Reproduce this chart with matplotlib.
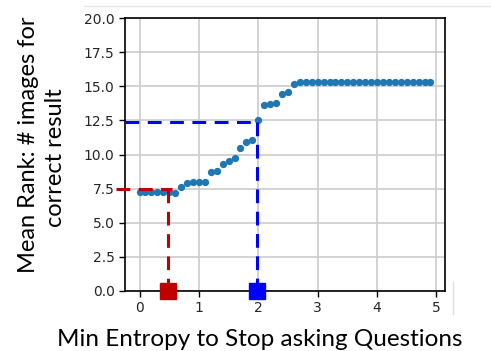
import numpy as np
import matplotlib
matplotlib.use("Agg")
import matplotlib.pyplot as plt
from matplotlib.lines import Line2D

entropy = [0.0, 0.1, 0.2, 0.3, 0.4, 0.5, 0.6, 0.7, 0.8, 0.9,
           1.0, 1.1, 1.2, 1.3, 1.4, 1.5, 1.6, 1.7, 1.8, 1.9,
           2.0, 2.1, 2.2, 2.3, 2.4, 2.5, 2.6, 2.7, 2.8, 2.9,
           3.0, 3.1, 3.2, 3.3, 3.4, 3.5, 3.6, 3.7, 3.8, 3.9,
           4.0, 4.1, 4.2, 4.3, 4.4, 4.5, 4.6, 4.7, 4.8, 4.9]
mean_rank = [7.24, 7.24, 7.24, 7.24, 7.24, 7.24, 7.17, 7.65, 7.90, 7.98,
             7.98, 7.98, 8.71, 8.80, 9.34, 9.54, 9.71, 10.51, 10.93, 11.08,
             12.55, 13.60, 13.72, 13.79, 14.43, 14.60, 15.19, 15.33, 15.33, 15.33,
             15.33, 15.33, 15.33, 15.33, 15.33, 15.33, 15.33, 15.33, 15.33, 15.33,
             15.33, 15.33, 15.33, 15.33, 15.33, 15.33, 15.33, 15.33, 15.33, 15.33]

red_x, red_y = 0.48, 7.45
blue_x, blue_y = 1.97, 12.4
yticks = [0.0, 2.5, 5.0, 7.5, 10.0, 12.5, 15.0, 17.5, 20.0]
xticks = [0, 1, 2, 3, 4, 5]

W, H = 491, 351
fig = plt.figure(figsize=(W / 100, H / 100), dpi=100)
ax = fig.add_axes([125 / W, 1 - 291 / H, 320 / W, 273 / H])

ax.grid(True, color="#cccccc", linewidth=1.2)
ax.set_axisbelow(True)
ax.scatter(entropy, mean_rank, s=18, color="#1f77b4", zorder=3)

red = "#c00000"
blue = "#0000ff"
dash = (4.5, 2.8)
ax.plot([-0.4, 0.55], [red_y, red_y], color=red, lw=2.2, dashes=dash, clip_on=False, zorder=4)
ax.plot([red_x, red_x], [red_y, 0], color=red, lw=2.2, dashes=dash, clip_on=False, zorder=4)
ax.plot([-0.245, 2.0], [blue_y, blue_y], color=blue, lw=2.2, dashes=dash, clip_on=False, zorder=4)
ax.plot([blue_x, blue_x], [blue_y, 0], color=blue, lw=2.2, dashes=dash, clip_on=False, zorder=4)
ax.plot([red_x], [0], marker="s", markersize=11, color=red, clip_on=False, zorder=5)
ax.plot([blue_x], [0], marker="s", markersize=11, color=blue, clip_on=False, zorder=5)

ax.set_xlim(-0.245, 5.145)
ax.set_ylim(0, 20)
ax.set_yticks(yticks)
ax.set_yticklabels([f"{v:.1f}" for v in yticks])
ax.set_xticks(xticks)
ax.tick_params(labelsize=10, labelcolor="#262626", length=4, width=1)
for s in ax.spines.values():
    s.set_linewidth(1.2)

fam = ["Lato", "DejaVu Sans"]
fig.text(35 / W, 1 - 145 / H, "Mean Rank: # images for", rotation=90, rotation_mode="anchor",
         ha="center", va="baseline", family=fam, size=17)
fig.text(62 / W, 1 - 158 / H, "correct result", rotation=90, rotation_mode="anchor",
         ha="center", va="baseline", family=fam, size=17)
fig.text(260 / W, 1 - 346 / H, "Min Entropy to Stop asking Questions",
         ha="center", va="baseline", family=fam, size=17.5)

fig.add_artist(Line2D([84 / W, 1], [1 - 6 / H, 1 - 6 / H], color="#e6e6e6", lw=1))
fig.add_artist(Line2D([453 / W, 453 / W], [1 - 282 / H, 1 - 314 / H], color="#e0e0e0", lw=1))

fig.savefig("out.png", dpi=100)
